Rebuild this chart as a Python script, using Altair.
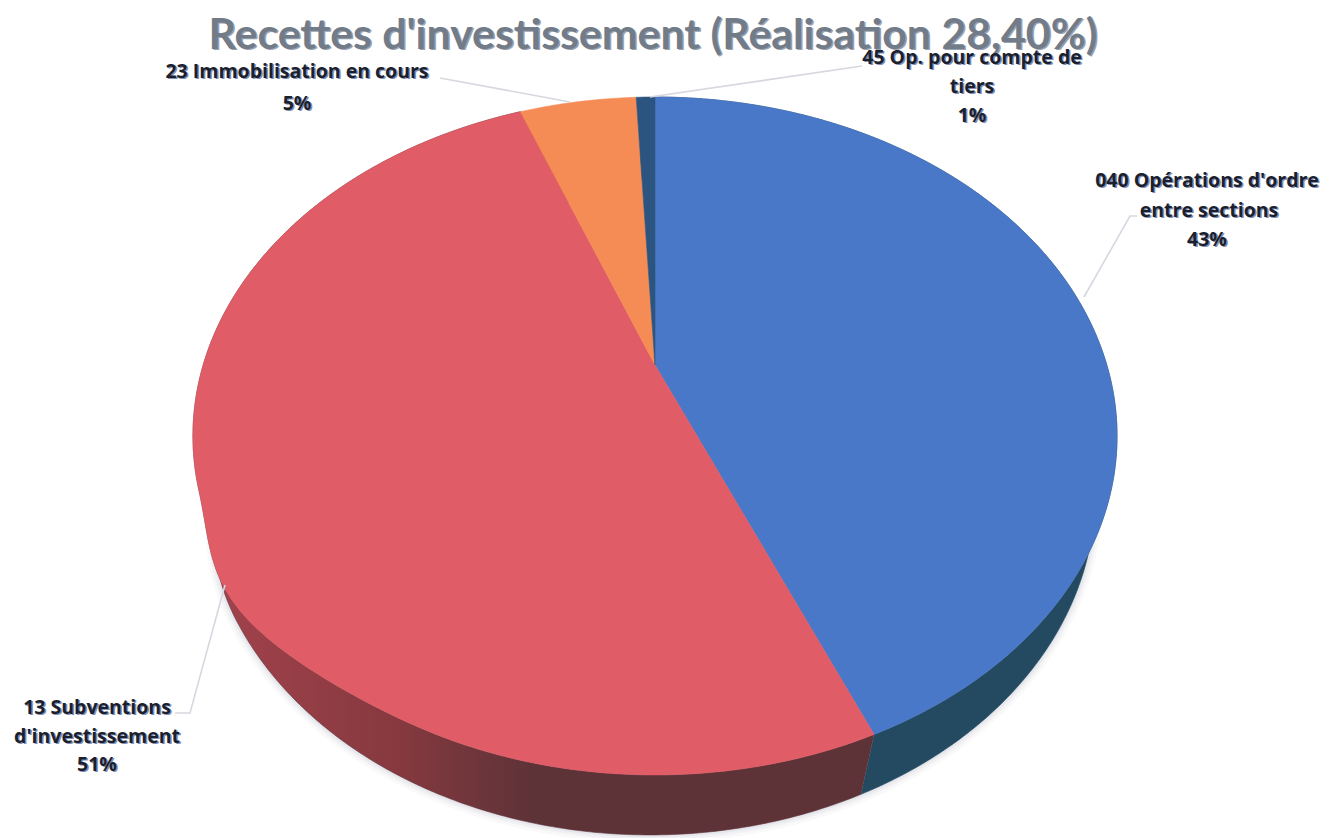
import math
import altair as alt
import pandas as pd

categories = ["040 Opérations d'ordre entre sections", "13 Subventions d'investissement",
              "23 Immobilisation en cours", "45 Op. pour compte de tiers"]
values = [43.6, 50.6, 5.0, 0.8]
face_colors = ["#4a78c8", "#e05c66", "#f58c55", "#2b5580"]
title_text = "Recettes d'investissement (Réalisation 28,40%)"
label_lines = [
    ["040 Opérations d'ordre", "entre sections", "43%"],
    ["13 Subventions", "d'investissement", "51%"],
    ["23 Immobilisation en cours", "5%"],
    ["45 Op. pour compte de", "tiers", "1%"],
]

# layout (page pixels)
APEX = (655, 365)
K, A, C = 0.2094, 324.1, 451.8
label_pos = [
    [(1207, 181), (1209, 211), (1207, 240)],
    [(97, 708), (97, 737), (97, 765)],
    [(297, 72), (297, 104)],
    [(972, 58), (972, 87), (972, 116)],
]
leaders = [
    [(1137, 216), (1130, 216), (1084, 297)],
    [(175, 713), (190, 713), (225, 585)],
    [(440, 78), (570, 102)],
    [(862, 66), (650, 97)],
]


def rim_raw(t):
    u, s = math.sin(t), -math.cos(t)
    w = 1 - K * s
    return APEX[0] + C * u / w, APEX[1] + A * s / w


def rim(t):
    x, y = rim_raw(t)
    if x < APEX[0] and 490 < y < 730:
        x -= 19 * math.sin(math.pi * (y - 490) / 240) ** 2
    return x, y


def low(t):
    x, y = rim_raw(t)
    lx, ly = 650 + (x - 655) * 445 / 462, 495 + (y - 436) * 340 / 339
    if lx < 650 and ly < 620:
        lx += 12 * ((620 - ly) / 120) ** 2
    return lx, ly


def angles(a, b, step=0.01):
    n = max(2, int((b - a) / step))
    return [a + (b - a) * i / n for i in range(n + 1)]


X = alt.X("x:Q", scale=alt.Scale(domain=[8, 1321]), axis=None)
Y = alt.Y("y:Q", scale=alt.Scale(domain=[838, 8]), axis=None)


def poly(pts, fill, **kw):
    df = pd.DataFrame({"x": [p[0] for p in pts], "y": [p[1] for p in pts], "i": range(len(pts))})
    kw.setdefault("stroke", fill if isinstance(fill, str) else "#5d3338")
    kw.setdefault("strokeWidth", 0.6)
    return alt.Chart(df).mark_line(fill=fill, **kw).encode(x=X, y=Y, order=alt.Order("i:Q"))


def path(pts, color, width, opacity=1.0):
    df = pd.DataFrame({"x": [p[0] for p in pts], "y": [p[1] for p in pts], "i": range(len(pts))})
    return alt.Chart(df).mark_line(stroke=color, strokeWidth=width, opacity=opacity).encode(
        x=X, y=Y, order=alt.Order("i:Q"))


bounds = [0]
for v in values:
    bounds.append(bounds[-1] + v / sum(values) * 2 * math.pi)

layers = []

# soft shadow under the front rim
front = [low(t) for t in angles(math.radians(60), math.radians(285))]
for w, o in [(16, 0.05), (10, 0.07), (5, 0.10)]:
    layers.append(path(front, "#8a93a5", w, o))

# side walls
red_grad = alt.Gradient(gradient="linear", x1=0, x2=1, y1=0, y2=0,
                        stops=[alt.GradientStop(color="#a6434e", offset=0),
                               alt.GradientStop(color="#86393f", offset=0.3),
                               alt.GradientStop(color="#5d3338", offset=0.5),
                               alt.GradientStop(color="#5d3338", offset=1)])
side_fill = ["#234a60", red_grad]
for i in (0, 1):
    ts = angles(bounds[i], bounds[i + 1])
    layers.append(poly([rim(t) for t in ts] + [low(t) for t in reversed(ts)], side_fill[i]))

# top faces
for i, col in enumerate(face_colors):
    ts = angles(bounds[i], bounds[i + 1])
    layers.append(poly([APEX] + [rim(t) for t in ts] + [APEX], col))

# leaders
for pts in leaders:
    layers.append(path(pts, "#d6d8e0", 1.6))


def text(s, p, size, color, font, dx=0, dy=0):
    return alt.Chart(pd.DataFrame({"t": [s]})).mark_text(
        font=font, fontWeight="bold", fontSize=size, color=color, align="center",
        baseline="middle", dx=dx, dy=dy
    ).encode(x=alt.value(p[0] - 8), y=alt.value(p[1] - 8), text="t:N")


# title
tp = (653, 36)
layers.append(text(title_text, tp, 42.8, "#9aa3b2", "Lato", dx=1.5, dy=1))
layers.append(text(title_text, tp, 42.8, "#727b88", "Lato"))

# labels
for lines, poss in zip(label_lines, label_pos):
    for s, p in zip(lines, poss):
        layers.append(text(s, p, 19.5, "#7f8fb8", "Open Sans", dx=1.5, dy=0.5))
        layers.append(text(s, p, 19.5, "#1c1f2c", "Open Sans"))

chart = alt.layer(*layers).properties(width=1313, height=830, padding=0).configure_view(stroke=None)
chart.save("out.html", embed_options={"renderer": "svg", "actions": False})
